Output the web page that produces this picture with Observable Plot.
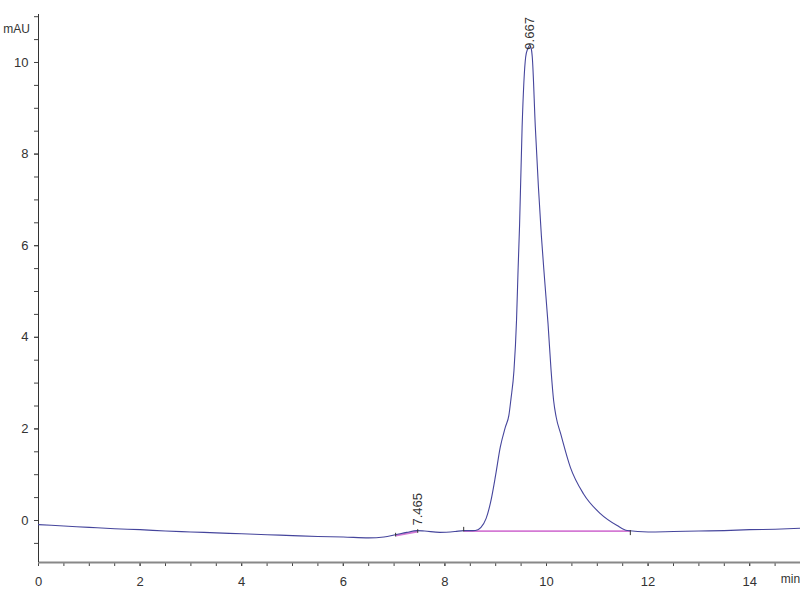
<!DOCTYPE html>
<html>
<head>
<meta charset="utf-8">
<script src="https://cdn.jsdelivr.net/npm/d3@7"></script>
<script src="https://cdn.jsdelivr.net/npm/@observablehq/plot@0.6"></script>
<style>
  html, body { margin: 0; padding: 0; background: #fff; }
  #chart { width: 800px; height: 600px; }
</style>
</head>
<body>
<div id="chart"></div>
<script>
// Retention time (min) and detector signal (mAU)
const times = [0, 0.5, 1, 1.5, 2, 2.5, 3, 3.5, 4, 4.5, 5, 5.5, 6, 6.5, 6.8, 7.03, 7.25, 7.45, 7.6, 7.9, 8.2, 8.37, 8.55, 8.65, 8.71, 8.81, 8.9, 9.0, 9.09, 9.19, 9.26, 9.3, 9.36, 9.41, 9.44, 9.47, 9.52, 9.59, 9.63, 9.667, 9.70, 9.72, 9.78, 9.84, 9.90, 9.96, 10.03, 10.09, 10.14, 10.19, 10.28, 10.47, 10.73, 11.06, 11.39, 11.59, 12, 12.5, 13, 13.5, 14, 14.5, 15];
const signal = [-0.09, -0.12, -0.15, -0.18, -0.2, -0.23, -0.25, -0.27, -0.29, -0.31, -0.33, -0.35, -0.36, -0.38, -0.36, -0.31, -0.26, -0.22, -0.23, -0.26, -0.24, -0.22, -0.22, -0.2, -0.15, 0.04, 0.4, 1.0, 1.6, 2.04, 2.3, 2.65, 3.28, 4.37, 5.46, 6.45, 8.59, 10.12, 10.3, 10.37, 10.3, 10.12, 8.59, 7.3, 6.2, 5.3, 4.3, 3.28, 2.62, 2.26, 1.89, 1.16, 0.58, 0.15, -0.11, -0.22, -0.25, -0.24, -0.23, -0.22, -0.2, -0.19, -0.17];

// Integration baselines (start/end time, start/end value)
const baseStartT = [7.03, 8.37];
const baseEndT = [7.465, 11.65];
const baseStartV = [-0.33, -0.23];
const baseEndV = [-0.24, -0.23];

// Peak delimiter marks
const markT = [7.03, 7.465, 8.37, 11.65];
const markLow = [-0.36, -0.28, -0.25, -0.33];
const markHigh = [-0.28, -0.2, -0.15, -0.22];

// Peak labels
const peakT = [7.465, 9.667];
const peakLabelV = [-0.11, 10.28];
const peakLabels = ["7.465", "9.667"];

// Axis ticks
const xMajor = [0, 2, 4, 6, 8, 10, 12, 14];
const xMinor = d3.range(0, 15.01, 0.5);
const yMajor = [0, 2, 4, 6, 8, 10];
const yMinor = d3.range(-0.5, 11.01, 0.5);

const trace = times.map((t, i) => ({t, v: signal[i]}));
const baselines = baseStartT.map((t, i) => ({t1: t, t2: baseEndT[i], v1: baseStartV[i], v2: baseEndV[i]}));
const marks = markT.map((t, i) => ({t, lo: markLow[i], hi: markHigh[i]}));
const labels = peakT.map((t, i) => ({t, v: peakLabelV[i], s: peakLabels[i]}));

const xDomain = [0, 15];
const yDomain = [-0.917, 11.048];

const chart = Plot.plot({
  width: 800,
  height: 600,
  marginLeft: 38,
  marginRight: 0,
  marginTop: 14,
  marginBottom: 38,
  style: {fontFamily: "'Liberation Sans', Arial, sans-serif", fontSize: "13px", color: "#333", background: "#fff"},
  x: {domain: xDomain, label: null},
  y: {domain: yDomain, label: null},
  marks: [
    Plot.axisX({ticks: xMinor, tickFormat: () => "", tickSize: 4, stroke: "#444"}),
    Plot.axisX({ticks: xMajor, tickSize: 4, tickPadding: 10, stroke: "#444", fill: "#333"}),
    Plot.axisY({ticks: yMinor, tickFormat: () => "", tickSize: 4, stroke: "#444"}),
    Plot.axisY({ticks: yMajor, tickSize: 4, tickPadding: 6, stroke: "#444", fill: "#333"}),
    Plot.ruleY([yDomain[0]], {x1: xDomain[0], x2: xDomain[1], stroke: "#888", strokeWidth: 2}),
    Plot.ruleX([xDomain[0]], {y1: yDomain[0], y2: yDomain[1], stroke: "#333", strokeWidth: 1}),
    Plot.link(baselines, {x1: "t1", x2: "t2", y1: "v1", y2: "v2", stroke: "#d47ad4", strokeWidth: 1.8}),
    Plot.line(trace, {x: "t", y: "v", stroke: "#45459c", strokeWidth: 1.1, curve: "monotone-x"}),
    Plot.ruleX(marks, {x: "t", y1: "lo", y2: "hi", stroke: "#333", strokeWidth: 1}),
    Plot.text(labels, {x: "t", y: "v", text: "s", rotate: -90, textAnchor: "start", lineAnchor: "middle", fontSize: 13, fill: "#333"}),
    Plot.text(["mAU"], {frameAnchor: "top-left", dx: -22, dy: 10, textAnchor: "middle", fill: "#333", fontSize: 12}),
    Plot.text(["min"], {frameAnchor: "bottom-right", dx: -10, dy: 20, textAnchor: "middle", fill: "#333", fontSize: 12})
  ]
});
document.getElementById("chart").appendChild(chart);
</script>
</body>
</html>
